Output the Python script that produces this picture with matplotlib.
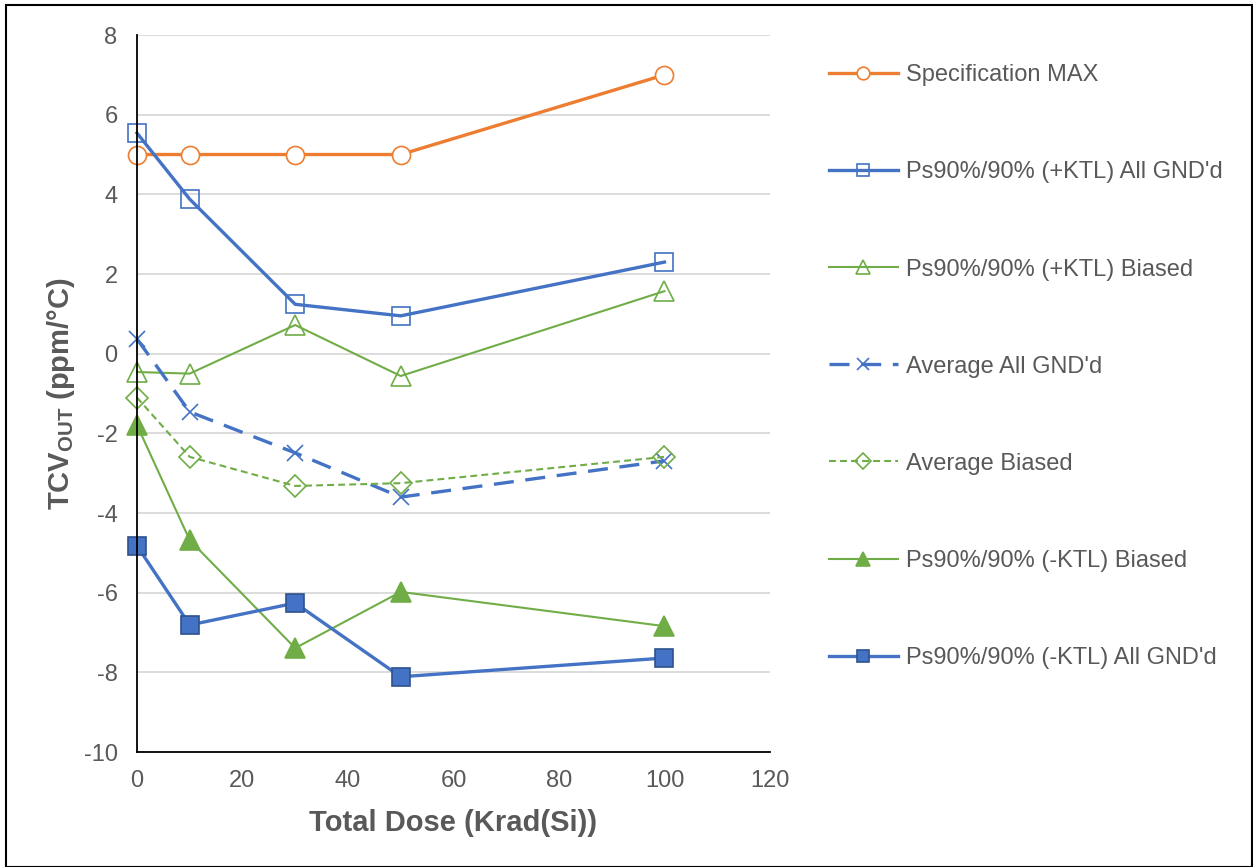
import matplotlib.pyplot as plt
from matplotlib.patches import Rectangle

plt.rcParams['font.family'] = ['Liberation Sans', 'DejaVu Sans']
plt.rcParams['mathtext.fontset'] = 'custom'
plt.rcParams['mathtext.bf'] = 'Liberation Sans:bold'
plt.rcParams['axes.unicode_minus'] = False

# dose points (Krad(Si)) and TCV values per series
dose = [0, 10, 30, 50, 100]
spec_max = [5, 5, 5, 5, 7]
pos_ktl_gnd = [5.54, 3.88, 1.24, 0.95, 2.30]
pos_ktl_biased = [-0.46, -0.50, 0.72, -0.56, 1.57]
avg_gnd = [0.37, -1.46, -2.49, -3.60, -2.69]
avg_biased = [-1.10, -2.59, -3.32, -3.25, -2.59]
neg_ktl_biased = [-1.79, -4.68, -7.39, -5.98, -6.84]
neg_ktl_gnd = [-4.82, -6.81, -6.26, -8.11, -7.64]

orange = "#ED7D31"
blue = "#4472C4"
green = "#70AD47"
gray = "#595959"

fig = plt.figure(figsize=(12.53, 8.67), dpi=100)
ax = fig.add_axes([0.1093, 0.1326, 0.5052, 0.8270])

ax.plot(dose, spec_max, color=orange, lw=2.4, marker='o', ms=13, mfc='white',
        mec=orange, mew=1.2, label="Specification MAX", clip_on=False)
ax.plot(dose, pos_ktl_gnd, color=blue, lw=2.4, marker='s', ms=13, mfc='none',
        mec=blue, mew=1.2, label="Ps90%/90% (+KTL) All GND'd", clip_on=False)
ax.plot(dose, pos_ktl_biased, color=green, lw=1.5, marker='^', ms=14, mfc='none',
        mec=green, mew=1.2, label="Ps90%/90% (+KTL) Biased", clip_on=False)
ax.plot(dose, avg_gnd, color=blue, lw=2.4, ls=(0, (6, 3.5)), marker='x', ms=12,
        mec=blue, mew=1.2, label="Average All GND'd", clip_on=False)
ax.plot(dose, avg_biased, color=green, lw=1.5, ls=(0, (3.3, 2)), marker='D', ms=11, mfc='none',
        mec=green, mew=1.2, label="Average Biased", clip_on=False)
ax.plot(dose, neg_ktl_biased, color=green, lw=1.5, marker='^', ms=14, mfc=green,
        mec=green, mew=1.2, label="Ps90%/90% (-KTL) Biased", clip_on=False)
ax.plot(dose, neg_ktl_gnd, color=blue, lw=2.4, marker='s', ms=13, mfc=blue,
        mec="#2F528F", mew=1.2, label="Ps90%/90% (-KTL) All GND'd", clip_on=False)

ax.set_xlim(0, 120)
ax.set_ylim(-10, 8)
ax.set_xticks(range(0, 121, 20))
ax.set_yticks(range(-10, 9, 2))
ax.grid(axis='y', color='#D9D9D9', lw=1.3)
ax.set_axisbelow(True)
for s in ['top', 'right']:
    ax.spines[s].set_visible(False)
for s in ['left', 'bottom']:
    ax.spines[s].set_color('black')
    ax.spines[s].set_linewidth(1.3)
ax.tick_params(length=0, colors=gray, labelsize=17)
ax.tick_params(axis='y', pad=14)
ax.tick_params(axis='x', pad=13)

ax.set_xlabel("Total Dose (Krad(Si))", fontsize=21, fontweight='bold', color=gray,
              labelpad=12)
ax.set_ylabel(r"TCV$_{\mathbf{OUT}}$ (ppm/°C)", fontsize=21, fontweight='bold',
              color=gray, labelpad=5)

leg = fig.legend(loc='upper left', bbox_to_anchor=(829 / 1253, 1 - 64.4 / 867),
                 frameon=False, fontsize=17, handlelength=2.92, handletextpad=0.34,
                 labelspacing=3.18, markerscale=0.7, borderpad=0, borderaxespad=0)
for t in leg.get_texts():
    t.set_color(gray)

# outer frame around the whole figure
fig.add_artist(Rectangle((6 / 1253, 0), 1246 / 1253, 1 - 5 / 867, transform=fig.transFigure,
                         fill=False, edgecolor='black', lw=1.5))

fig.savefig("out.png", dpi=100)
